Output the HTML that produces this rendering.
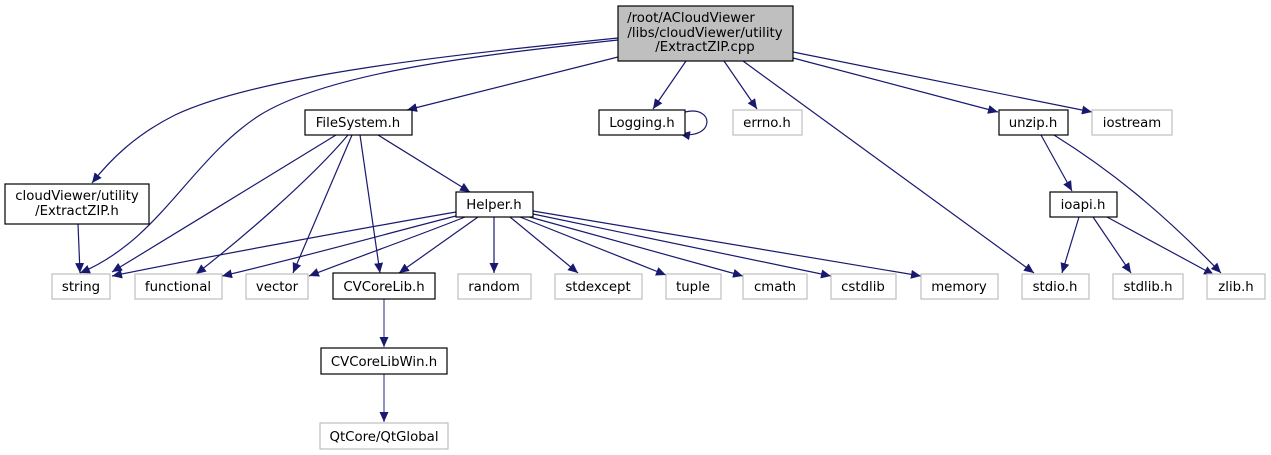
<!DOCTYPE html>
<html><head><meta charset="utf-8"><style>
html,body{margin:0;padding:0;background:#fff;}
svg{display:block;}
text{font-family:"DejaVu Sans","Liberation Sans",sans-serif;font-size:13.3px;fill:#000;}
</style></head><body>
<svg width="1271" height="455" viewBox="0 0 1271 455" xmlns="http://www.w3.org/2000/svg">
<defs>
<marker id="a" markerUnits="userSpaceOnUse" markerWidth="11" markerHeight="9" refX="10" refY="4.5" orient="auto">
<path d="M0,0 L10,4.5 L0,9 Z" fill="#191970"/>
</marker>
</defs>
<g fill="none" stroke="#191970" stroke-width="1.2" marker-end="url(#a)">
<path d="M618,38 C450,55 260,75 175,115 C135,135 110,160 92,183"/>
<path d="M618,40 C480,55 330,72 260,115 C190,160 160,240 80,273"/>
<path d="M618,57 L407,110"/>
<path d="M686,61 L653,109"/>
<path d="M724,61 L757,109"/>
<path d="M743,61 L1034,273"/>
<path d="M793,58 L998,112"/>
<path d="M793,52 L1092,112"/>
<path d="M685,112 C715,105 715,140 680,134"/>
<path d="M336,135 C280,170 180,230 112,272"/>
<path d="M348,135 C310,180 240,240 196,274"/>
<path d="M352,135 L293,273"/>
<path d="M360,135 L380,273"/>
<path d="M378,135 L470,192"/>
<path d="M456,212 C380,225 200,258 112,276"/>
<path d="M456,216 C400,230 300,258 222,276"/>
<path d="M465,217 C420,235 350,260 309,276"/>
<path d="M478,217 L399,273"/>
<path d="M494,217 L494,273"/>
<path d="M510,217 L578,273"/>
<path d="M520,217 L666,275"/>
<path d="M526,216 L743,276"/>
<path d="M533,214 L831,276"/>
<path d="M533,211 L921,276"/>
<path d="M1041,135 L1072,191"/>
<path d="M1054,135 C1110,170 1160,210 1221,273"/>
<path d="M1079,217 L1062,273"/>
<path d="M1093,217 L1131,273"/>
<path d="M1107,217 L1214,275"/>
<path d="M78,224 L80,273"/>
<path d="M384,299 L384,347" stroke="#4b4b99"/>
<path d="M384,374 L384,422" stroke="#4b4b99"/>
</g>
<g stroke-width="1.2">
<rect x="618" y="6" width="175" height="55" fill="#bfbfbf" stroke="#000"/>
<g fill="#fff" stroke="#000">
<rect x="305" y="110" width="107" height="25"/>
<rect x="599" y="110" width="86" height="25"/>
<rect x="999" y="110" width="69" height="25"/>
<rect x="5" y="184" width="144" height="40"/>
<rect x="456" y="192" width="77" height="25"/>
<rect x="1050" y="192" width="67" height="25"/>
<rect x="333" y="273" width="102" height="26"/>
<rect x="321" y="348" width="126" height="26"/>
</g>
<g fill="#fff" stroke="#bfbfbf">
<rect x="733" y="110" width="69" height="25"/>
<rect x="1092" y="110" width="80" height="25"/>
<rect x="52" y="274" width="58" height="25"/>
<rect x="135" y="274" width="87" height="25"/>
<rect x="246" y="274" width="62" height="25"/>
<rect x="458" y="274" width="73" height="25"/>
<rect x="555" y="274" width="87" height="25"/>
<rect x="666" y="274" width="55" height="25"/>
<rect x="743" y="274" width="64" height="25"/>
<rect x="831" y="274" width="65" height="25"/>
<rect x="921" y="274" width="77" height="25"/>
<rect x="1022" y="274" width="67" height="25"/>
<rect x="1113" y="274" width="70" height="25"/>
<rect x="1207" y="274" width="58" height="25"/>
<rect x="320" y="423" width="128" height="26"/>
</g>
</g>
<g text-anchor="middle">
<text x="691" y="22">/root/ACloudViewer</text>
<text x="705" y="37">/libs/cloudViewer/utility</text>
<text x="705" y="51">/ExtractZIP.cpp</text>
<text x="358" y="127">FileSystem.h</text>
<text x="642" y="127">Logging.h</text>
<text x="767" y="127">errno.h</text>
<text x="1033" y="127">unzip.h</text>
<text x="1132" y="127">iostream</text>
<text x="77" y="200">cloudViewer/utility</text>
<text x="77" y="215">/ExtractZIP.h</text>
<text x="494" y="209">Helper.h</text>
<text x="1083" y="209">ioapi.h</text>
<text x="81" y="291">string</text>
<text x="178" y="291">functional</text>
<text x="277" y="291">vector</text>
<text x="384" y="291">CVCoreLib.h</text>
<text x="494" y="291">random</text>
<text x="598" y="291">stdexcept</text>
<text x="693" y="291">tuple</text>
<text x="775" y="291">cmath</text>
<text x="863" y="291">cstdlib</text>
<text x="959" y="291">memory</text>
<text x="1055" y="291">stdio.h</text>
<text x="1148" y="291">stdlib.h</text>
<text x="1236" y="291">zlib.h</text>
<text x="384" y="366">CVCoreLibWin.h</text>
<text x="384" y="441">QtCore/QtGlobal</text>
</g>
</svg>
</body></html>
